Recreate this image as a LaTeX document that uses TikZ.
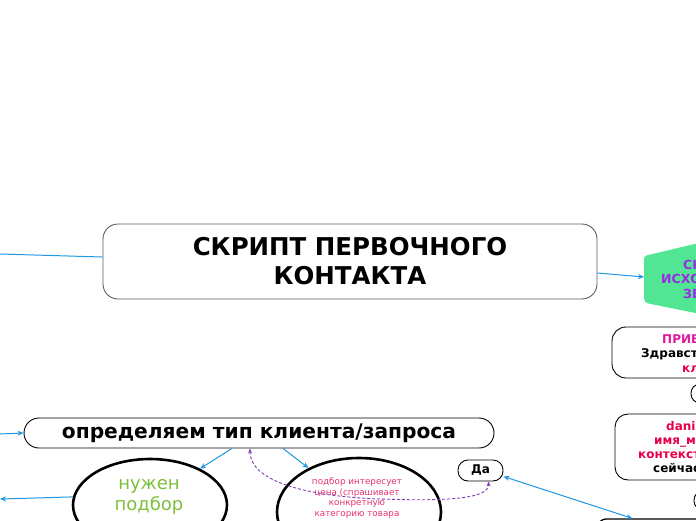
\documentclass[tikz,border=0pt]{standalone}
\usepackage{fontspec}
\setmainfont{DejaVu Sans}
\usetikzlibrary{arrows.meta,shapes.geometric,calc}
\definecolor{connc}{RGB}{30,150,225}
\definecolor{dashp}{RGB}{128,60,180}
\definecolor{greenfill}{RGB}{82,230,148}
\definecolor{purp}{RGB}{155,40,230}
\definecolor{magen}{RGB}{222,24,160}
\definecolor{redt}{RGB}{232,0,72}
\definecolor{pinkt}{RGB}{232,50,110}
\definecolor{greent}{RGB}{125,190,60}
\definecolor{rootgray}{RGB}{90,90,90}
\begin{document}
\begin{tikzpicture}[x=1pt,y=-1pt,
  link/.style={draw=connc, line width=1pt},
  conn/.style={link, -{Stealth[length=6pt,width=5pt]}},
  biconn/.style={link, {Stealth[length=6pt,width=5pt]}-{Stealth[length=6pt,width=5pt]}},
  dashlink/.style={draw=dashp, line width=0.9pt, dash pattern=on 3pt off 2pt, {Stealth[length=5pt,width=4pt]}-{Stealth[length=5pt,width=4pt]}},
  topicbox/.style={draw=black, line width=0.9pt, rectangle, inner sep=0pt},
  bubble/.style={draw=black, line width=2.6pt, ellipse, inner sep=0pt},
  cliptext/.style={anchor=base west, inner sep=0pt, font=\fontsize{12}{14}\selectfont\bfseries},
  ]
\useasboundingbox (0,0) rectangle (696,520);

% root
\node[topicbox, draw=rootgray, rounded corners=15pt, minimum width=494pt, minimum height=75pt,
      align=center, font=\fontsize{24.5}{29}\selectfont\bfseries] (root) at (350,261.5)
      {СКРИПТ ПЕРВОЧНОГО\\КОНТАКТА};

% green shape (right, clipped)
\fill[greenfill, rounded corners=3pt] (644,256) -- (720,238) -- (720,318) -- (646,303) -- (644,300) -- cycle;
\coordinate (gw) at (644,277);
\node[cliptext, font=\fontsize{12.5}{14}\selectfont\bfseries, text=purp] (g1) at (683,269) {СКРИПТ};
\node[cliptext, font=\fontsize{12.5}{14}\selectfont\bfseries, text=purp] (g2) at (661,283.5) {ИСХОДЯЩЕГО};
\node[cliptext, font=\fontsize{12.5}{14}\selectfont\bfseries, text=purp] (g3) at (683,298) {ЗВОНКА};

% greeting box
\node[topicbox, rounded corners=14pt, minimum width=168pt, minimum height=51pt] (greet) at (696,352.5) {};
\node[cliptext, text=magen] (p1) at (662,343) {ПРИВЕТСТВИЕ};
\node[cliptext, text=black] (p2) at (641,357.5) {Здравствуйте};
\node[cliptext, text=redt] (p3) at (682,372) {клиент};

\node[topicbox, rounded corners=9pt, minimum width=40pt, minimum height=19pt] (small1) at (711,393.5) {};

% dani box
\node[topicbox, rounded corners=13pt, minimum width=166pt, minimum height=66pt] (dani) at (698,447) {};
\node[cliptext, text=redt] (d1) at (666,430) {daniil};
\node[cliptext, text=redt] (d2) at (654,444) {имя\_менеджера};
\node[cliptext, text=redt] (d3) at (638,458) {контекст};
\node[cliptext, text=black] (d4) at (653,472) {сейчас};

\node[topicbox, rounded corners=9pt, minimum width=40pt, minimum height=19pt] (small2) at (714,500.5) {};

% bottom box
\node[topicbox, line width=1.3pt, rounded corners=8pt, minimum width=200pt, minimum height=40pt] (bot) at (698,539) {};

% type node
\node[topicbox, rounded corners=15pt, minimum width=470pt, minimum height=30pt,
      font=\fontsize{20.2}{22}\selectfont\bfseries] (typ) at (259,433) {определяем тип клиента/запроса};

% ellipses
\node[bubble, minimum width=154pt, minimum height=92pt] (e1) at (150,505) {};
\node[inner sep=0pt, align=center, text=greent, font=\fontsize{18}{21}\selectfont] (e1t) at (149,497) {нужен\\подбор};

\node[bubble, minimum width=164pt, minimum height=108pt] (e2) at (359,512) {};
\node[inner sep=0pt, align=center, text=pinkt, font=\fontsize{8.8}{10.5}\selectfont] (e2t) at (357,498) {подбор интересует\\цена (спрашивает\\конкретную\\категорию товара};

% Да
\node[topicbox, rounded corners=10pt, minimum width=45pt, minimum height=21pt,
      font=\fontsize{12}{14}\selectfont\bfseries] (da) at (480.5,470.5) {Да};

% off-canvas ends
\coordinate (offL0) at (0,254);
\coordinate (offL1) at (0,434);
\coordinate (offL2) at (0,499);

% connectors
\draw[link] (offL0) -- ([yshift=4.5pt]root.west);
\draw[conn] ([yshift=-11.5pt]root.east) -- (gw);
\draw[conn] (offL1) -- (typ.west);
\draw[conn] ([xshift=-27pt]typ.south) -- (e1.36);
\draw[conn] ([xshift=24pt]typ.south) -- (e2.139);
\draw[conn] (e1.174) -- (offL2);
\draw[biconn] ([yshift=-6pt]da.east) -- ([xshift=35pt]bot.north west);
\draw[dashlink] ([xshift=-9pt]typ.south) .. controls (250,485) and (320,497) .. (380,499)
   .. controls (440,501) and (489,500) .. ([xshift=8pt]da.south);
\end{tikzpicture}
\end{document}
